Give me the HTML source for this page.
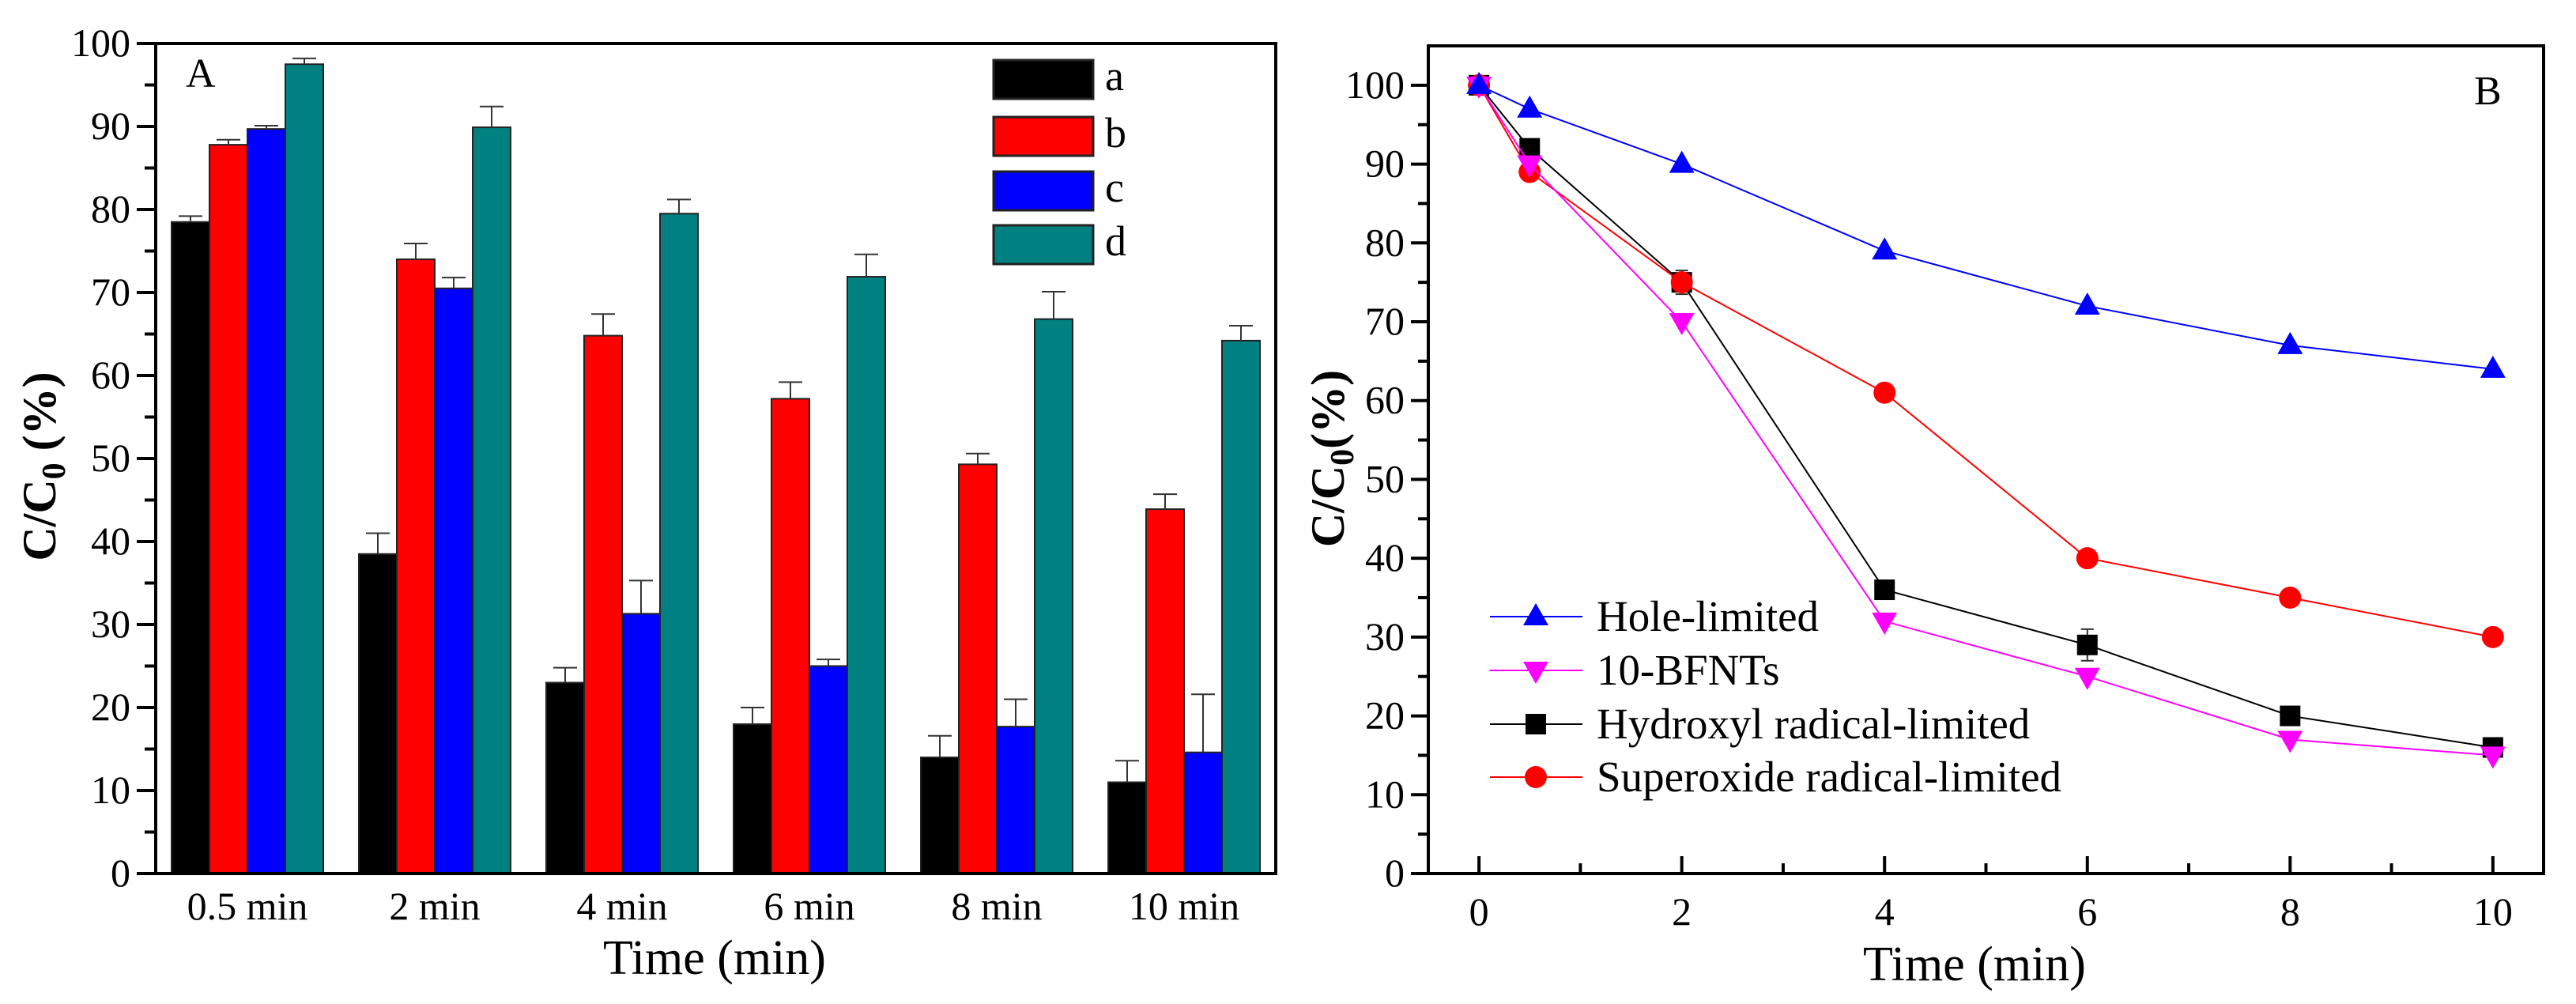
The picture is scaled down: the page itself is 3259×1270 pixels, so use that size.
<!DOCTYPE html>
<html><head><meta charset="utf-8"><style>
html,body{margin:0;padding:0;background:#fff;}
svg{display:block;font-family:"Liberation Serif",serif;}
svg text{font-family:"Liberation Serif",serif;}
</style></head><body>
<svg id="chart" width="3259" height="1270" viewBox="0 0 3259 1270" xmlns="http://www.w3.org/2000/svg">
<g id="pa"></g>
<g id="pb"></g>
</svg>
<script>
// Panel A data
const catsA = ["0.5 min","2 min","4 min","6 min","8 min","10 min"];
const seriesNamesA = ["a","b","c","d"];
const valsA_a = [78.5,38.5,23,18,14,11];
const valsA_b = [87.8,74,64.8,57.2,49.3,43.9];
const valsA_c = [89.7,70.5,31.3,25,17.7,14.6];
const valsA_d = [97.5,89.9,79.5,71.9,66.8,64.2];
const errA_a = [0.7,2.5,1.8,2,2.6,2.6];
const errA_b = [0.6,1.9,2.6,2,1.3,1.8];
const errA_c = [0.4,1.3,4,0.8,3.3,7];
const errA_d = [0.7,2.5,1.7,2.7,3.3,1.8];
const yTicksA = [0,10,20,30,40,50,60,70,80,90,100];
// Panel B data
const timesB = [0,0.5,2,4,6,8,10];
const holeB = [100,97,90,79,72,67,64];
const bfntB = [100,90,70,32,25,17,15];
const hydroxylB = [100,92,75,36,29,20,16];
const superoxideB = [100,89,75,61,40,35,30];
const errB_hydroxyl = [0,0.5,1.5,0.8,2,0.8,0.5];
const xTicksB = [0,2,4,6,8,10];
const yTicksB = [0,10,20,30,40,50,60,70,80,90,100];

const NS="http://www.w3.org/2000/svg";
const FF='"Liberation Serif", serif';
function mk(parent,tag,attrs,text){const e=document.createElementNS(NS,tag);for(const k in attrs)e.setAttribute(k,attrs[k]);if(tag==='text')e.setAttribute('font-family',FF);if(text!==undefined)e.textContent=text;parent.appendChild(e);return e;}

// ---------- Panel A ----------
const pa=document.getElementById('pa');
const A={x0:197,x1:1614,y0:1105,y1:55};
const yA=v=>A.y0-(v/100)*(A.y0-A.y1);
const colorsA=["#000000","#ff0000","#0000ff","#008080"];
const valsA=[valsA_a,valsA_b,valsA_c,valsA_d];
const errsA=[errA_a,errA_b,errA_c,errA_d];
const groupStart=217, groupStep=237, barW=48;
for(let g=0;g<catsA.length;g++){
  for(let s=0;s<4;s++){
    const x=groupStart+g*groupStep+s*barW;
    const v=valsA[s][g];
    const r=mk(pa,'rect',{x:x,y:yA(v),width:barW,height:yA(0)-yA(v),fill:colorsA[s],stroke:'#222','stroke-width':2});
    
    
    const cx=x+barW/2, top=yA(v+errsA[s][g]);
    const eb=mk(pa,'path',{d:`M${cx},${yA(v)}V${top}M${cx-15},${top}H${cx+15}`,stroke:'#333','stroke-width':2,fill:'none'});
    
    
  }
  const lbl=mk(pa,'text',{x:groupStart+g*groupStep+2*barW,y:1163,'font-size':50,'text-anchor':'middle'},catsA[g]);
  
  
}
mk(pa,'rect',{x:A.x0,y:A.y1,width:A.x1-A.x0,height:A.y0-A.y1,fill:'none',stroke:'#000','stroke-width':4,});
for(let i=0;i<=20;i++){
  const v=i*5, y=yA(v), maj=i%2===0;
  mk(pa,'line',{x1:A.x0,x2:A.x0-(maj?24:14),y1:y,y2:y,stroke:'#000','stroke-width':4});
}
yTicksA.forEach(v=>{const t=mk(pa,'text',{x:A.x0-32,y:yA(v)+16,'font-size':50,'text-anchor':'end'},v);
  
  });
mk(pa,'text',{x:235,y:110,'font-size':52,},'A');
const lgA=[76,148,217,285];
lgA.forEach((yy,i)=>{
  mk(pa,'rect',{x:1257,y:yy,width:126,height:49,fill:colorsA[i],stroke:'#222','stroke-width':3,});
  mk(pa,'text',{x:1398,y:yy+38,'font-size':54,},seriesNamesA[i]);
});
mk(pa,'text',{x:904,y:1232,'font-size':62,'text-anchor':'middle',},'Time (min)');
const ytA=mk(pa,'text',{transform:'translate(70,590) rotate(-90)','font-size':60,'font-weight':'bold','text-anchor':'middle',});
ytA.innerHTML='C/C<tspan font-size="42" dy="12">0</tspan><tspan dy="-12"> (%)</tspan>';

// ---------- Panel B ----------
const pb=document.getElementById('pb');
const B={x0:1807,x1:3218,y0:1105,y1:58,xmin:-0.5,xmax:10.5,ymax:105};
const xB=v=>B.x0+(v-B.xmin)/(B.xmax-B.xmin)*(B.x1-B.x0);
const yB=v=>B.y0-v/B.ymax*(B.y0-B.y1);
mk(pb,'rect',{x:B.x0,y:B.y1,width:B.x1-B.x0,height:B.y0-B.y1,fill:'none',stroke:'#000','stroke-width':4,});
for(let i=0;i<=20;i++){const y=yB(i*5),maj=i%2===0;mk(pb,'line',{x1:B.x0,x2:B.x0-(maj?22:13),y1:y,y2:y,stroke:'#000','stroke-width':4});}
for(let i=0;i<=10;i++){const x=xB(i),maj=i%2===0;mk(pb,'line',{x1:x,x2:x,y1:B.y0,y2:B.y0-(maj?22:13),stroke:'#000','stroke-width':4});}
yTicksB.forEach(v=>{const t=mk(pb,'text',{x:B.x0-30,y:yB(v)+16,'font-size':50,'text-anchor':'end'},v);
  
  });
xTicksB.forEach(v=>{const t=mk(pb,'text',{x:xB(v),y:1170,'font-size':50,'text-anchor':'middle'},v);
  
  });
mk(pb,'text',{x:3130,y:132,'font-size':52,},'B');
mk(pb,'text',{x:2498,y:1240,'font-size':62,'text-anchor':'middle',},'Time (min)');
const ytB=mk(pb,'text',{transform:'translate(1700,580) rotate(-90)','font-size':60,'font-weight':'bold','text-anchor':'middle',});
ytB.innerHTML='C/C<tspan font-size="42" dy="12">0</tspan><tspan dy="-12">(%)</tspan>';

function marker(g,type,x,y,color){
  if(type==='up') return mk(g,'path',{d:`M${x},${y-17}L${x+16},${y+11}L${x-16},${y+11}Z`,fill:color});
  if(type==='down') return mk(g,'path',{d:`M${x},${y+17}L${x+16},${y-11}L${x-16},${y-11}Z`,fill:color});
  if(type==='sq') return mk(g,'rect',{x:x-13,y:y-13,width:26,height:26,fill:color});
  return mk(g,'circle',{cx:x,cy:y,r:14,fill:color});
}
const seriesB=[
  {name:'hydroxyl-radical-limited',label:'Hydroxyl radical-limited',vals:hydroxylB,color:'#000000',m:'sq',ly:916},
  {name:'superoxide-radical-limited',label:'Superoxide radical-limited',vals:superoxideB,color:'#ff0000',m:'circ',ly:983},
  {name:'10-bfnts',label:'10-BFNTs',vals:bfntB,color:'#ff00ff',m:'down',ly:848},
  {name:'hole-limited',label:'Hole-limited',vals:holeB,color:'#0000ff',m:'up',ly:780},
];
seriesB.forEach(s=>{
  const g=mk(pb,'g',{});
  
  
  const pts=timesB.map((t,i)=>xB(t)+','+yB(s.vals[i])).join(' ');
  mk(g,'polyline',{points:pts,fill:'none',stroke:s.color,'stroke-width':2});
  timesB.forEach((t,i)=>{
    if(s.m==='sq'){const e=errB_hydroxyl[i];if(e>0)mk(g,'path',{d:`M${xB(t)},${yB(s.vals[i]-e)}V${yB(s.vals[i]+e)}M${xB(t)-8},${yB(s.vals[i]+e)}h16M${xB(t)-8},${yB(s.vals[i]-e)}h16`,stroke:'#333','stroke-width':2});}
    const mkr=marker(g,s.m,xB(t),yB(s.vals[i]),s.color);
    
    
  });
});
const lgB=mk(pb,'g',{});


[seriesB[3],seriesB[2],seriesB[0],seriesB[1]].forEach(s=>{
  mk(lgB,'line',{x1:1885,x2:2002,y1:s.ly,y2:s.ly,stroke:s.color,'stroke-width':2});
  marker(lgB,s.m,1943,s.ly,s.color);
  const t=mk(lgB,'text',{x:2020,y:s.ly+18,'font-size':55},s.label);
  
  
});
</script>
</body></html>
